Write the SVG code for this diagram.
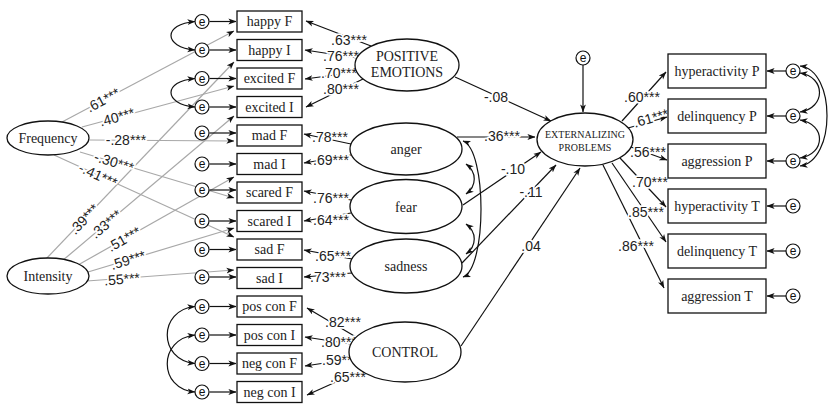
<svg xmlns="http://www.w3.org/2000/svg" width="830" height="404" viewBox="0 0 830 404">
<defs>
<marker id="ah" viewBox="0 0 10 8" refX="9.5" refY="4" markerWidth="8" markerHeight="6.4" markerUnits="userSpaceOnUse" orient="auto-start-reverse"><path d="M0,0.4 L10,4 L0,7.6 L2.6,4 z" fill="#111"/></marker>
</defs>
<style>
.bx{fill:#fff;stroke:#111;stroke-width:1.3}
.el{fill:#fff;stroke:#111;stroke-width:1.3}
.ec{fill:#fff;stroke:#111;stroke-width:1.2}
.t{font-family:"Liberation Serif","Times New Roman",serif;font-size:14px;fill:#222;text-anchor:middle}
.ts{font-family:"Liberation Serif","Times New Roman",serif;font-size:10px;fill:#222;text-anchor:middle}
.e{font-family:"Liberation Sans",Arial,sans-serif;font-size:12px;fill:#111;text-anchor:middle}
.k{font-family:"Liberation Sans",Arial,sans-serif;font-size:14px;fill:#222;text-anchor:middle;paint-order:stroke;stroke:#fff;stroke-width:3.5px;stroke-linejoin:round}
.a{fill:none;stroke:#111;stroke-width:1.2;marker-end:url(#ah)}
.d{fill:none;stroke:#111;stroke-width:1.2;marker-start:url(#ah);marker-end:url(#ah)}
.g{fill:none;stroke:#a8a8a8;stroke-width:1.2;marker-end:url(#ah)}
</style>
<rect width="830" height="404" fill="#fff"/>

<g id="connectors">
<!-- Frequency / Intensity (gray) -->
<line class="g" x1="62" y1="122" x2="234" y2="31"/>
<line class="g" x1="82" y1="127" x2="234" y2="86"/>
<line class="g" x1="89" y1="140" x2="234" y2="141"/>
<line class="g" x1="80" y1="152" x2="234" y2="198"/>
<line class="g" x1="54" y1="155" x2="234" y2="237"/>
<line class="g" x1="46" y1="259" x2="234" y2="62"/>
<line class="g" x1="62" y1="261" x2="234" y2="116"/>
<line class="g" x1="78" y1="265" x2="234" y2="177"/>
<line class="g" x1="88" y1="272" x2="234" y2="228"/>
<line class="g" x1="87" y1="281" x2="234" y2="270"/>

<!-- e to left boxes -->
<line class="a" x1="209.5" y1="21.5" x2="236" y2="21.5"/>
<line class="a" x1="209.5" y1="50" x2="236" y2="50"/>
<line class="a" x1="209.5" y1="78.5" x2="236" y2="78.5"/>
<line class="a" x1="209.5" y1="107" x2="236" y2="107"/>
<line class="a" x1="209.5" y1="133" x2="236" y2="133"/>
<line class="a" x1="209.5" y1="164" x2="236" y2="164"/>
<line class="a" x1="209.5" y1="190" x2="236" y2="190"/>
<line class="a" x1="209.5" y1="221" x2="236" y2="221"/>
<line class="a" x1="209.5" y1="249.5" x2="236" y2="249.5"/>
<line class="a" x1="209.5" y1="277" x2="236" y2="277"/>
<line class="a" x1="209.5" y1="306.5" x2="236" y2="306.5"/>
<line class="a" x1="209.5" y1="335" x2="236" y2="335"/>
<line class="a" x1="209.5" y1="363.5" x2="236" y2="363.5"/>
<line class="a" x1="209.5" y1="392" x2="236" y2="392"/>

<!-- left error covariances -->
<path class="d" d="M195,21.5 C163,24 163,47 195,50"/>
<path class="d" d="M195,78.5 C163,81 163,104 195,107"/>
<path class="d" d="M195,306.5 C158,310 158,360 195,363.5"/>
<path class="d" d="M195,335 C158,339 158,389 195,392"/>

<!-- latent to indicators -->
<line class="a" x1="371" y1="46" x2="306" y2="21"/>
<line class="a" x1="357" y1="58" x2="305" y2="50"/>
<line class="a" x1="357" y1="72" x2="305" y2="79"/>
<line class="a" x1="363" y1="79" x2="306" y2="107"/>
<line class="a" x1="351" y1="144" x2="304" y2="134"/>
<line class="a" x1="351" y1="155" x2="304" y2="163"/>
<line class="a" x1="351" y1="200" x2="304" y2="191"/>
<line class="a" x1="351" y1="213" x2="304" y2="221"/>
<line class="a" x1="352" y1="259" x2="304" y2="250"/>
<line class="a" x1="352" y1="273" x2="304" y2="277"/>
<line class="a" x1="356" y1="337" x2="307" y2="308"/>
<line class="a" x1="351" y1="344" x2="305" y2="337"/>
<line class="a" x1="351" y1="359" x2="305" y2="366"/>
<line class="a" x1="358" y1="372" x2="307" y2="395"/>

<!-- factor correlations -->
<path class="d" d="M466,164 C477,172 477,186 466,194"/>
<path class="d" d="M466,224 C477,232 477,246 466,254"/>
<path class="d" d="M463,141 C487,150 487,268 463,277"/>

<!-- structural paths -->
<line class="a" x1="455" y1="77" x2="551" y2="121"/>
<line class="a" x1="457" y1="137" x2="535" y2="137"/>
<line class="a" x1="463" y1="205" x2="541" y2="152"/>
<line class="a" x1="462" y1="263" x2="556" y2="165"/>
<line class="a" x1="461" y1="346" x2="580" y2="168"/>
<line class="a" x1="583" y1="65" x2="583" y2="112"/>

<!-- EXT to indicators -->
<line class="a" x1="622" y1="121" x2="666" y2="72"/>
<line class="a" x1="628" y1="128" x2="667" y2="117"/>
<line class="a" x1="631" y1="147" x2="667" y2="160"/>
<line class="a" x1="620" y1="158" x2="666" y2="207"/>
<line class="a" x1="612" y1="163" x2="666" y2="242"/>
<line class="a" x1="603" y1="165" x2="664" y2="288"/>

<!-- right e to boxes -->
<line class="a" x1="786" y1="71" x2="767" y2="71"/>
<line class="a" x1="786" y1="116" x2="767" y2="116"/>
<line class="a" x1="786" y1="161" x2="767" y2="161"/>
<line class="a" x1="786" y1="206" x2="767" y2="206"/>
<line class="a" x1="786" y1="251" x2="767" y2="251"/>
<line class="a" x1="786" y1="296" x2="767" y2="296"/>

<!-- right error covariances -->
<path class="d" d="M800,66 C836,70 836,161 800,166"/>
<path class="d" d="M800,73 C826,77 826,108 800,112"/>
<path class="d" d="M800,120 C826,124 826,154 800,158"/>

<!-- labels -->
<text class="k" x="103" y="105" transform="rotate(-27.9 103 100)">.61***</text>
<text class="k" x="117" y="122" transform="rotate(-15.1 117 117)">.40***</text>
<text class="k" x="126" y="145">-.28***</text>
<text class="k" x="114" y="167" transform="rotate(17.3 114 162)">-.30***</text>
<text class="k" x="98" y="180" transform="rotate(24.5 98 175)">-.41***</text>
<text class="k" x="84" y="224" transform="rotate(-46.3 84 219)">.39***</text>
<text class="k" x="106" y="229" transform="rotate(-40.1 106 224)">.33***</text>
<text class="k" x="124" y="244" transform="rotate(-29.4 124 239)">.51***</text>
<text class="k" x="128" y="265" transform="rotate(-16.8 128 260)">.59***</text>
<text class="k" x="122" y="284" transform="rotate(-4.7 122 279)">.55***</text>

<text class="k" x="349" y="45">.63***</text>
<text class="k" x="341" y="61">.76***</text>
<text class="k" x="339" y="78">.70***</text>
<text class="k" x="341" y="94">.80***</text>
<text class="k" x="330" y="142">.78***</text>
<text class="k" x="331" y="165">.69***</text>
<text class="k" x="331" y="203">.76***</text>
<text class="k" x="331" y="225">.64***</text>
<text class="k" x="333" y="261">.65***</text>
<text class="k" x="328" y="282">.73***</text>
<text class="k" x="343" y="327">.82***</text>
<text class="k" x="339" y="347">.80***</text>
<text class="k" x="340" y="365">.59***</text>
<text class="k" x="348" y="382">.65***</text>

<text class="k" x="496" y="102">-.08</text>
<text class="k" x="502" y="141">.36***</text>
<text class="k" x="513" y="174">-.10</text>
<text class="k" x="531" y="197">-.11</text>
<text class="k" x="531" y="251">.04</text>

<text class="k" x="642" y="102">.60***</text>
<text class="k" x="651" y="123" transform="rotate(-15.7 651 118)">.61***</text>
<text class="k" x="648" y="157">.56***</text>
<text class="k" x="650" y="187">.70***</text>
<text class="k" x="646" y="217">.85***</text>
<text class="k" x="636" y="251">.86***</text>
</g>

<g id="n-frequency"><ellipse class="el" cx="48" cy="138" rx="41" ry="17"/><text class="t" x="48" y="143">Frequency</text></g>
<g id="n-intensity"><ellipse class="el" cx="48" cy="276" rx="41" ry="18"/><text class="t" x="48" y="281">Intensity</text></g>

<g id="e-left">
<g id="e1"><circle class="ec" cx="202" cy="21.5" r="7"/><text class="e" x="202" y="25.5">e</text></g>
<g id="e2"><circle class="ec" cx="202" cy="50" r="7"/><text class="e" x="202" y="54">e</text></g>
<g id="e3"><circle class="ec" cx="202" cy="78.5" r="7"/><text class="e" x="202" y="82.5">e</text></g>
<g id="e4"><circle class="ec" cx="202" cy="107" r="7"/><text class="e" x="202" y="111">e</text></g>
<g id="e5"><circle class="ec" cx="202" cy="133" r="7"/><text class="e" x="202" y="137">e</text></g>
<g id="e6"><circle class="ec" cx="202" cy="164" r="7"/><text class="e" x="202" y="168">e</text></g>
<g id="e7"><circle class="ec" cx="202" cy="190" r="7"/><text class="e" x="202" y="194">e</text></g>
<g id="e8"><circle class="ec" cx="202" cy="221" r="7"/><text class="e" x="202" y="225">e</text></g>
<g id="e9"><circle class="ec" cx="202" cy="249.5" r="7"/><text class="e" x="202" y="253.5">e</text></g>
<g id="e10"><circle class="ec" cx="202" cy="277" r="7"/><text class="e" x="202" y="281">e</text></g>
<g id="e11"><circle class="ec" cx="202" cy="306.5" r="7"/><text class="e" x="202" y="310.5">e</text></g>
<g id="e12"><circle class="ec" cx="202" cy="335" r="7"/><text class="e" x="202" y="339">e</text></g>
<g id="e13"><circle class="ec" cx="202" cy="363.5" r="7"/><text class="e" x="202" y="367.5">e</text></g>
<g id="e14"><circle class="ec" cx="202" cy="392" r="7"/><text class="e" x="202" y="396">e</text></g>
</g>

<g id="boxes-left">
<g id="n-happyF"><rect class="bx" x="237" y="11" width="65" height="21"/><text class="t" x="269.5" y="26">happy F</text></g>
<g id="n-happyI"><rect class="bx" x="237" y="39.5" width="65" height="21"/><text class="t" x="269.5" y="54.5">happy I</text></g>
<g id="n-excitedF"><rect class="bx" x="237" y="68" width="65" height="21"/><text class="t" x="269.5" y="83">excited F</text></g>
<g id="n-excitedI"><rect class="bx" x="237" y="96.5" width="65" height="21"/><text class="t" x="269.5" y="111.5">excited I</text></g>
<g id="n-madF"><rect class="bx" x="237" y="125" width="65" height="21"/><text class="t" x="269.5" y="140">mad F</text></g>
<g id="n-madI"><rect class="bx" x="237" y="153.5" width="65" height="21"/><text class="t" x="269.5" y="168.5">mad I</text></g>
<g id="n-scaredF"><rect class="bx" x="237" y="182" width="65" height="21"/><text class="t" x="269.5" y="197">scared F</text></g>
<g id="n-scaredI"><rect class="bx" x="237" y="210.5" width="65" height="21"/><text class="t" x="269.5" y="225.5">scared I</text></g>
<g id="n-sadF"><rect class="bx" x="237" y="239" width="65" height="21"/><text class="t" x="269.5" y="254">sad F</text></g>
<g id="n-sadI"><rect class="bx" x="237" y="267.5" width="65" height="21"/><text class="t" x="269.5" y="282.5">sad I</text></g>
<g id="n-posconF"><rect class="bx" x="237" y="296" width="65" height="21"/><text class="t" x="269.5" y="311">pos con F</text></g>
<g id="n-posconI"><rect class="bx" x="237" y="324.5" width="65" height="21"/><text class="t" x="269.5" y="339.5">pos con I</text></g>
<g id="n-negconF"><rect class="bx" x="237" y="353" width="65" height="21"/><text class="t" x="269.5" y="368">neg con F</text></g>
<g id="n-negconI"><rect class="bx" x="237" y="381.5" width="65" height="21"/><text class="t" x="269.5" y="396.5">neg con I</text></g>
</g>

<g id="n-positive"><ellipse class="el" cx="407" cy="65" rx="52" ry="26"/><text class="t" x="407" y="61">POSITIVE</text><text class="t" x="407" y="77">EMOTIONS</text></g>
<g id="n-anger"><ellipse class="el" cx="406" cy="149" rx="56" ry="26"/><text class="t" x="406" y="154">anger</text></g>
<g id="n-fear"><ellipse class="el" cx="406" cy="206.5" rx="56" ry="27"/><text class="t" x="406" y="211.5">fear</text></g>
<g id="n-sadness"><ellipse class="el" cx="406" cy="266" rx="56" ry="27"/><text class="t" x="406" y="271">sadness</text></g>
<g id="n-control"><ellipse class="el" cx="405" cy="352" rx="56" ry="30"/><text class="t" x="405" y="357">CONTROL</text></g>

<g id="n-ext"><ellipse class="el" cx="585" cy="139.5" rx="48" ry="26.5"/><text class="ts" x="585" y="138">EXTERNALIZING</text><text class="ts" x="585" y="151">PROBLEMS</text></g>
<g id="e-ext"><circle class="ec" cx="583" cy="58" r="7"/><text class="e" x="583" y="62">e</text></g>

<g id="boxes-right">
<g id="n-hypP"><rect class="bx" x="668" y="54" width="98" height="34"/><text class="t" x="717" y="76">hyperactivity P</text></g>
<g id="n-delP"><rect class="bx" x="668" y="99" width="98" height="34"/><text class="t" x="717" y="121">delinquency P</text></g>
<g id="n-aggP"><rect class="bx" x="668" y="144" width="98" height="34"/><text class="t" x="717" y="166">aggression P</text></g>
<g id="n-hypT"><rect class="bx" x="668" y="189" width="98" height="34"/><text class="t" x="717" y="211">hyperactivity T</text></g>
<g id="n-delT"><rect class="bx" x="668" y="234" width="98" height="34"/><text class="t" x="717" y="256">delinquency T</text></g>
<g id="n-aggT"><rect class="bx" x="668" y="279" width="98" height="34"/><text class="t" x="717" y="301">aggression T</text></g>
</g>

<g id="e-right">
<g id="er1"><circle class="ec" cx="793" cy="71" r="7"/><text class="e" x="793" y="75">e</text></g>
<g id="er2"><circle class="ec" cx="793" cy="116" r="7"/><text class="e" x="793" y="120">e</text></g>
<g id="er3"><circle class="ec" cx="793" cy="161" r="7"/><text class="e" x="793" y="165">e</text></g>
<g id="er4"><circle class="ec" cx="793" cy="206" r="7"/><text class="e" x="793" y="210">e</text></g>
<g id="er5"><circle class="ec" cx="793" cy="251" r="7"/><text class="e" x="793" y="255">e</text></g>
<g id="er6"><circle class="ec" cx="793" cy="296" r="7"/><text class="e" x="793" y="300">e</text></g>
</g>
</svg>
